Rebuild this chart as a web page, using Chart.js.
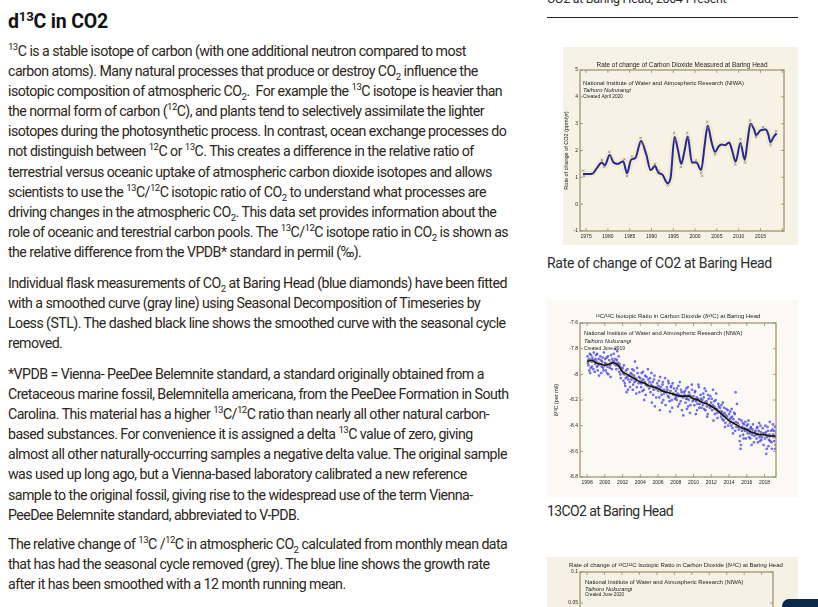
<!DOCTYPE html>
<html>
<head>
<meta charset="utf-8">
<script src="https://cdn.jsdelivr.net/npm/chart.js@4.4.1/dist/chart.umd.min.js"></script>
<style>
  html, body { margin: 0; padding: 0; background: #fff; overflow: hidden; }
  body { width: 818px; height: 607px; position: relative; font-family: Roboto, "Noto Sans", sans-serif; color: #2b2620; }
  #text { position: absolute; left: 8px; top: 0; width: 535px; }
  h2 { font-size: 19.5px; font-weight: 700; color: #111; margin: 9px 0 0 0; line-height: 26px; letter-spacing: -0.2px; }
  p { font-size: 14.2px; line-height: 20.1px; letter-spacing: -0.55px; margin: 0 0 10.8px 0; white-space: nowrap; }
  p.first { margin-top: 6px; }
  p.third { margin-bottom: 9.2px; }
  sup, sub { font-size: 0.68em; line-height: 0; }
  .cap { position: absolute; left: 547px; font-size: 14px; letter-spacing: -0.3px; color: #2b2b2b; white-space: nowrap; }
  #rule { position: absolute; left: 547px; top: 17px; width: 251px; height: 0; border-top: 1.5px solid #222; }
  canvas { position: absolute; }
  #topBtn { position: absolute; left: 782px; top: 599px; width: 46px; height: 20px; background: #0c2b4b; border-radius: 7px; }
</style>
</head>
<body>
<div id="text">
  <h2>d<sup>13</sup>C in CO2</h2>
  <p class="first"><sup>13</sup>C is a stable isotope of carbon (with one additional neutron compared to most<br>
  carbon atoms). Many natural processes that produce or destroy CO<sub>2</sub> influence the<br>
  isotopic composition of atmospheric CO<sub>2</sub>.&nbsp; For example the <sup>13</sup>C isotope is heavier than<br>
  the normal form of carbon (<sup>12</sup>C), and plants tend to selectively assimilate the lighter<br>
  isotopes during the photosynthetic process. In contrast, ocean exchange processes do<br>
  not distinguish between <sup>12</sup>C or <sup>13</sup>C. This creates a difference in the relative ratio of<br>
  terrestrial versus oceanic uptake of atmospheric carbon dioxide isotopes and allows<br>
  scientists to use the <sup>13</sup>C/<sup>12</sup>C isotopic ratio of CO<sub>2</sub> to understand what processes are<br>
  driving changes in the atmospheric CO<sub>2</sub>. This data set provides information about the<br>
  role of oceanic and terestrial carbon pools. The <sup>13</sup>C/<sup>12</sup>C isotope ratio in CO<sub>2</sub> is shown as<br>
  the relative difference from the VPDB* standard in permil (‰).</p>
  <p>Individual flask measurements of CO<sub>2</sub> at Baring Head (blue diamonds) have been fitted<br>
  with a smoothed curve (gray line) using Seasonal Decomposition of Timeseries by<br>
  Loess (STL). The dashed black line shows the smoothed curve with the seasonal cycle<br>
  removed.</p>
  <p class="third">*VPDB = Vienna- PeeDee Belemnite standard, a standard originally obtained from a<br>
  Cretaceous marine fossil, Belemnitella americana, from the PeeDee Formation in South<br>
  Carolina. This material has a higher <sup>13</sup>C/<sup>12</sup>C ratio than nearly all other natural carbon-<br>
  based substances. For convenience it is assigned a delta <sup>13</sup>C value of zero, giving<br>
  almost all other naturally-occurring samples a negative delta value. The original sample<br>
  was used up long ago, but a Vienna-based laboratory calibrated a new reference<br>
  sample to the original fossil, giving rise to the widespread use of the term Vienna-<br>
  PeeDee Belemnite standard, abbreviated to V-PDB.</p>
  <p>The relative change of <sup>13</sup>C /<sup>12</sup>C in atmospheric CO<sub>2</sub> calculated from monthly mean data<br>
  that has had the seasonal cycle removed (grey). The blue line shows the growth rate<br>
  after it has been smoothed with a 12 month running mean.</p>
</div>

<div class="cap" style="top:-9px; font-size:12.5px;">CO2 at Baring Head, 2004-Present</div>
<div id="rule"></div>

<canvas id="rateChart" width="235" height="198" style="left:563px; top:47px;"></canvas>
<div class="cap" style="top:255px;">Rate of change of CO2 at Baring Head</div>

<canvas id="isoChart" width="251" height="197" style="left:547px; top:300px;"></canvas>
<div class="cap" style="top:503px; letter-spacing:-0.6px;">13CO2 at Baring Head</div>

<canvas id="isoRateChart" width="251" height="190" style="left:547px; top:557px;"></canvas>
<div id="topBtn"></div>

<script>
// ---- rate of change of CO2 (ppm/yr), smoothed curve ----
const rateYears = [1974.3, 1975.5, 1976.5, 1977.5, 1978.6, 1979.3, 1980.4, 1981.3, 1982.3, 1983.5,
  1984.4, 1985.3, 1986.3, 1987.6, 1988.8, 1989.8, 1990.8, 1991.6, 1992.5, 1993.7,
  1994.4, 1995.3, 1996.1, 1996.8, 1997.6, 1998.3, 1999.3, 2000.3, 2001.4, 2002.2,
  2002.9, 2003.8, 2004.6, 2005.4, 2006.1, 2006.9, 2007.8, 2008.5, 2009.3, 2010.4,
  2011.4, 2012.0, 2012.7, 2013.5, 2014.0, 2015.0, 2016.2, 2016.8, 2017.3, 2018.0, 2018.7];
const rateValues = [1.12, 1.12, 1.14, 1.35, 1.55, 1.45, 1.83, 1.55, 1.50, 1.60,
  1.15, 1.65, 1.72, 2.35, 1.85, 1.27, 1.42, 1.17, 1.10, 0.78,
  1.00, 2.50, 2.00, 1.50, 2.00, 2.52, 1.55, 1.55, 1.27, 2.20,
  2.92, 2.30, 1.95, 2.15, 2.22, 2.20, 2.30, 2.00, 1.58, 2.28,
  1.65, 2.30, 3.00, 2.80, 2.57, 2.75, 2.78, 2.60, 2.30, 2.50, 2.64];

// annual estimates (grey markers)
const annualYears = [1974.3, 1974.5, 1978.6, 1979.2, 1980.3, 1980.6, 1983.8, 1984.4, 1985.5, 1987.5,
  1987.8, 1990.8, 1991.7, 1993.7, 1995.2, 1995.5, 1996.7, 1998.2, 1998.5, 2000.2,
  2001.4, 2001.6, 2002.8, 2003.0, 2004.6, 2009.2, 2010.4, 2010.5, 2011.5, 2012.6,
  2012.9, 2014.0, 2015.6, 2017.3, 2018.6];
const annualValues = [1.25, 1.05, 1.65, 1.38, 1.95, 1.75, 1.68, 1.05, 1.78, 2.47,
  2.25, 1.50, 1.25, 0.70, 2.66, 2.40, 1.38, 2.66, 2.45, 1.63,
  1.17, 1.06, 3.07, 2.85, 1.86, 1.48, 2.42, 2.20, 1.55, 3.12,
  2.95, 2.50, 2.87, 2.20, 2.72];

// ---- d13C flask samples (per mil) ----
const flaskYears = [
  1998.05, 1998.15, 1998.2, 1998.3, 1998.35, 1998.4, 1998.5, 1998.6, 1998.7, 1998.8, 1998.9,
  1999.0, 1999.1, 1999.2, 1999.3, 1999.45, 1999.5, 1999.6, 1999.7, 1999.8, 1999.9,
  2000.0, 2000.1, 2000.2, 2000.3, 2000.4, 2000.5, 2000.6, 2000.7, 2000.8, 2000.9,
  2001.0, 2001.1, 2001.2, 2001.3, 2001.4, 2001.5, 2001.6, 2001.7, 2001.8, 2001.9,
  2002.0, 2002.1, 2002.2, 2002.3, 2002.4, 2002.5, 2002.6, 2002.7, 2002.8, 2002.9,
  2003.0, 2003.1, 2003.2, 2003.3, 2003.4, 2003.5, 2003.6, 2003.7, 2003.8, 2003.9,
  2004.0, 2004.1, 2004.2, 2004.3, 2004.4, 2004.5, 2004.6, 2004.7, 2004.8, 2004.9,
  2005.0, 2005.1, 2005.2, 2005.3, 2005.4, 2005.5, 2005.6, 2005.7, 2005.8, 2005.9,
  2006.0, 2006.1, 2006.2, 2006.3, 2006.4, 2006.5, 2006.6, 2006.7, 2006.8, 2006.9,
  2007.0, 2007.1, 2007.2, 2007.3, 2007.4, 2007.5, 2007.6, 2007.7, 2007.8, 2007.9,
  2008.0, 2008.1, 2008.2, 2008.3, 2008.4, 2008.5, 2008.6, 2008.7, 2008.8, 2008.9,
  2009.0, 2009.1, 2009.2, 2009.3, 2009.4, 2009.5, 2009.6, 2009.7, 2009.8, 2009.9,
  2010.0, 2010.1, 2010.2, 2010.3, 2010.4, 2010.5, 2010.6, 2010.7, 2010.8, 2010.9,
  2011.0, 2011.1, 2011.2, 2011.3, 2011.4, 2011.5, 2011.6, 2011.7, 2011.8, 2011.9,
  2012.0, 2012.1, 2012.2, 2012.3, 2012.4, 2012.5, 2012.6, 2012.7, 2012.8, 2012.9,
  2013.0, 2013.1, 2013.2, 2013.3, 2013.4, 2013.5, 2013.6, 2013.7, 2013.8, 2013.9,
  2014.0, 2014.1, 2014.2, 2014.3, 2014.4, 2014.5, 2014.6, 2014.7, 2014.75, 2014.8, 2014.9,
  2015.0, 2015.1, 2015.2, 2015.3, 2015.35, 2015.4, 2015.5, 2015.6, 2015.7, 2015.8, 2015.9,
  2016.0, 2016.1, 2016.2, 2016.3, 2016.4, 2016.5, 2016.6, 2016.7, 2016.8, 2016.9,
  2017.0, 2017.1, 2017.2, 2017.3, 2017.4, 2017.5, 2017.6, 2017.7, 2017.8, 2017.9,
  2018.0, 2018.1, 2018.2, 2018.25, 2018.3, 2018.4, 2018.5, 2018.6, 2018.7, 2018.8, 2018.9,
  2019.0, 2019.1, 2019.2, 2019.25, 2019.3];
const flaskD13C = [
  -7.86, -7.93, -7.88, -7.84, -7.99, -7.95, -7.90, -7.87, -7.96, -7.89, -7.92,
  -7.85, -7.94, -7.97, -7.88, -7.92, -7.86, -7.99, -7.90, -7.95, -7.83,
  -7.91, -7.97, -7.87, -7.94, -8.00, -7.89, -7.93, -7.85, -7.96, -7.90,
  -7.84, -7.92, -7.88, -7.96, -7.82, -7.91, -7.98, -7.94, -8.03, -7.97,
  -7.95, -8.05, -8.00, -8.09, -7.97, -8.02, -8.12, -8.01, -8.06, -7.99,
  -8.04, -7.96, -8.08, -8.01, -7.90, -8.05, -8.10, -7.99, -8.07, -8.14,
  -8.03, -8.10, -8.05, -7.98, -8.12, -8.06, -8.16, -8.02, -8.09, -8.04,
  -8.11, -8.03, -8.08, -8.22, -8.06, -8.12, -8.01, -8.10, -8.18, -8.07,
  -8.13, -8.05, -8.28, -8.10, -8.16, -8.08, -8.20, -8.12, -8.03, -8.14,
  -8.10, -8.17, -8.07, -8.21, -8.13, -8.09, -8.26, -8.15, -8.11, -8.19,
  -8.13, -8.20, -8.15, -8.09, -8.23, -8.17, -8.12, -8.28, -8.18, -8.14,
  -8.16, -8.22, -8.11, -8.19, -8.25, -8.14, -8.30, -8.18, -8.08, -8.21,
  -8.17, -8.24, -8.13, -8.21, -8.28, -8.19, -8.10, -8.23, -8.16, -8.26,
  -8.20, -8.15, -8.27, -8.22, -8.13, -8.25, -8.31, -8.19, -8.24, -8.17,
  -8.22, -8.28, -8.12, -8.25, -8.31, -8.20, -8.27, -8.34, -8.23, -8.29,
  -8.26, -8.33, -8.29, -8.22, -8.36, -8.30, -8.38, -8.27, -8.33, -8.40,
  -8.31, -8.38, -8.34, -8.27, -8.42, -8.35, -8.30, -8.44, -8.14, -8.37, -8.23,
  -8.38, -8.43, -8.52, -8.58, -8.55, -8.36, -8.41, -8.47, -8.39, -8.44, -8.50,
  -8.40, -8.46, -8.36, -8.43, -8.50, -8.42, -8.47, -8.39, -8.53, -8.45,
  -8.44, -8.50, -8.41, -8.47, -8.38, -8.52, -8.45, -8.49, -8.42, -8.55,
  -8.46, -8.40, -8.62, -8.58, -8.49, -8.44, -8.51, -8.37, -8.48, -8.53, -8.43,
  -8.47, -8.52, -8.41, -8.55, -8.45];

// second sampling of flasks (same site, other days)
const flaskYearsB = [
  1998.1, 1998.25, 1998.45, 1998.55, 1998.65, 1998.75, 1998.85, 1998.95,
  1999.05, 1999.15, 1999.25, 1999.35, 1999.55, 1999.65, 1999.75, 1999.85,
  2000.05, 2000.15, 2000.25, 2000.35, 2000.55, 2000.65, 2000.75, 2000.85,
  2001.05, 2001.15, 2001.25, 2001.35, 2001.55, 2001.65, 2001.75, 2001.85,
  2002.05, 2002.15, 2002.25, 2002.35, 2002.45, 2002.55, 2002.65, 2002.85,
  2003.05, 2003.15, 2003.25, 2003.35, 2003.45, 2003.55, 2003.65, 2003.85,
  2004.05, 2004.15, 2004.25, 2004.35, 2004.45, 2004.55, 2004.65, 2004.85,
  2005.05, 2005.15, 2005.25, 2005.35, 2005.45, 2005.55, 2005.65, 2005.85,
  2006.05, 2006.15, 2006.25, 2006.35, 2006.45, 2006.55, 2006.65, 2006.85,
  2007.05, 2007.15, 2007.25, 2007.35, 2007.45, 2007.55, 2007.65, 2007.85,
  2008.05, 2008.15, 2008.25, 2008.35, 2008.45, 2008.55, 2008.65, 2008.85,
  2009.05, 2009.15, 2009.25, 2009.35, 2009.45, 2009.55, 2009.65, 2009.85,
  2010.05, 2010.15, 2010.25, 2010.35, 2010.45, 2010.55, 2010.65, 2010.85,
  2011.05, 2011.15, 2011.25, 2011.35, 2011.45, 2011.55, 2011.65, 2011.85,
  2012.05, 2012.15, 2012.25, 2012.35, 2012.45, 2012.55, 2012.65, 2012.85,
  2013.05, 2013.15, 2013.25, 2013.35, 2013.45, 2013.55, 2013.65, 2013.85,
  2014.05, 2014.15, 2014.25, 2014.35, 2014.45, 2014.55, 2014.65, 2014.85,
  2015.05, 2015.15, 2015.25, 2015.45, 2015.55, 2015.65, 2015.75, 2015.85,
  2016.05, 2016.15, 2016.25, 2016.35, 2016.45, 2016.55, 2016.65, 2016.85,
  2017.05, 2017.15, 2017.25, 2017.35, 2017.45, 2017.55, 2017.65, 2017.85,
  2018.05, 2018.15, 2018.35, 2018.45, 2018.55, 2018.65, 2018.75, 2018.85, 2018.95,
  2019.05, 2019.15, 2019.22];
const flaskD13CB = [
  -7.91, -7.97, -7.85, -7.94, -7.89, -7.83, -7.98, -7.88,
  -7.90, -7.84, -7.93, -8.01, -7.89, -7.94, -7.87, -7.97,
  -7.88, -7.92, -7.99, -7.86, -7.95, -8.02, -7.91, -7.88,
  -7.90, -7.80, -7.93, -7.89, -7.86, -7.92, -8.00, -7.95,
  -7.99, -7.93, -8.07, -8.03, -8.14, -7.96, -8.04, -8.10,
  -8.00, -8.12, -7.97, -8.06, -8.03, -8.15, -7.95, -8.02,
  -8.07, -7.99, -8.13, -8.04, -8.20, -8.01, -8.08, -7.96,
  -8.06, -8.14, -7.99, -8.09, -8.16, -8.04, -8.25, -8.11,
  -8.09, -8.18, -8.02, -8.13, -8.22, -8.06, -8.15, -8.24,
  -8.12, -8.05, -8.18, -8.29, -8.10, -8.20, -8.07, -8.16,
  -8.18, -8.11, -8.25, -8.16, -8.06, -8.21, -8.14, -8.32,
  -8.13, -8.19, -8.27, -8.10, -8.20, -8.16, -8.24, -8.12,
  -8.20, -8.14, -8.31, -8.18, -8.23, -8.08, -8.26, -8.19,
  -8.24, -8.18, -8.11, -8.28, -8.21, -8.33, -8.16, -8.26,
  -8.19, -8.24, -8.36, -8.21, -8.27, -8.15, -8.30, -8.25,
  -8.29, -8.24, -8.35, -8.31, -8.26, -8.41, -8.32, -8.28,
  -8.35, -8.29, -8.40, -8.33, -8.46, -8.38, -8.31, -8.41,
  -8.41, -8.35, -8.48, -8.44, -8.38, -8.50, -8.42, -8.37,
  -8.44, -8.39, -8.49, -8.46, -8.41, -8.55, -8.43, -8.48,
  -8.47, -8.42, -8.53, -8.44, -8.49, -8.40, -8.51, -8.46,
  -8.50, -8.45, -8.41, -8.56, -8.47, -8.52, -8.44, -8.58, -8.39,
  -8.44, -8.49, -8.58];

// smoothed curve with seasonal cycle removed
const trendYears = [1998.0, 1998.5, 1999.0, 1999.5, 2000.0, 2000.5, 2001.0, 2001.5, 2002.0, 2002.5,
  2003.0, 2003.5, 2004.0, 2004.5, 2005.0, 2005.5, 2006.0, 2006.5, 2007.0, 2007.5,
  2008.0, 2008.5, 2009.0, 2009.5, 2010.0, 2010.5, 2011.0, 2011.5, 2012.0, 2012.5,
  2013.0, 2013.5, 2014.0, 2014.5, 2015.0, 2015.5, 2016.0, 2016.5, 2017.0, 2017.5,
  2018.0, 2018.5, 2019.0, 2019.3];
const trendD13C = [-7.90, -7.89, -7.91, -7.92, -7.93, -7.92, -7.91, -7.93, -7.98, -8.00,
  -8.02, -8.04, -8.06, -8.07, -8.09, -8.10, -8.11, -8.13, -8.14, -8.15,
  -8.16, -8.17, -8.17, -8.17, -8.19, -8.20, -8.22, -8.23, -8.25, -8.27,
  -8.30, -8.33, -8.36, -8.38, -8.40, -8.42, -8.43, -8.45, -8.46, -8.47,
  -8.47, -8.48, -8.48, -8.48];

const notesTop = ['National Institute of Water and Atmospheric Research (NIWA)', 'Taihoro Nukurangi'];

function pairs(xs, ys) {
  return xs.map((x, i) => ({ x: x, y: ys[i] }));
}

// draws background, frame, inward ticks, title and the NIWA notes
const niwaFrame = {
  id: 'niwaFrame',
  beforeDraw(chart, args, opts) {
    const ctx = chart.ctx;
    ctx.save();
    ctx.fillStyle = opts.bg;
    ctx.fillRect(0, 0, chart.width, chart.height);
    ctx.restore();
  },
  afterDraw(chart, args, opts) {
    const { ctx, chartArea: a, scales } = chart;
    ctx.save();
    ctx.strokeStyle = opts.frame;
    ctx.lineWidth = 1.2;
    ctx.strokeRect(a.left, a.top, a.right - a.left, a.bottom - a.top);
    ctx.lineWidth = 0.8;
    ctx.beginPath();
    scales.x.ticks.forEach(t => {
      const px = scales.x.getPixelForValue(t.value);
      ctx.moveTo(px, a.bottom); ctx.lineTo(px, a.bottom - 3);
      ctx.moveTo(px, a.top); ctx.lineTo(px, a.top + 3);
    });
    scales.y.ticks.forEach(t => {
      const py = scales.y.getPixelForValue(t.value);
      ctx.moveTo(a.left, py); ctx.lineTo(a.left + 3, py);
      ctx.moveTo(a.right, py); ctx.lineTo(a.right - 3, py);
    });
    ctx.stroke();
    ctx.fillStyle = '#222';
    ctx.textAlign = 'center';
    ctx.textBaseline = 'middle';
    ctx.font = opts.titleFont;
    ctx.fillText(opts.title, opts.titleX || (a.left + a.right) / 2, opts.titleY);
    ctx.textAlign = 'left';
    opts.notes.forEach(n => {
      ctx.font = n.font;
      ctx.fillText(n.text, a.left + n.dx, a.top + n.dy);
    });
    ctx.restore();
  }
};

function tinyScales(xMin, xMax, xStep, yMin, yMax, yStep, yTitle, yWidth, xHeight, xLast, titlePad) {
  return {
    x: {
      type: 'linear', min: xMin, max: xMax,
      grid: { display: false, drawTicks: false }, border: { display: false },
      ticks: { stepSize: xStep, includeBounds: false, padding: 3, color: '#222',
        font: { size: 5, family: 'Liberation Sans' },
        callback: v => (v > xLast ? '' : String(v)) },
      afterFit: s => { s.height = xHeight; }
    },
    y: {
      type: 'linear', min: yMin, max: yMax,
      grid: { display: false, drawTicks: false }, border: { display: false },
      ticks: { stepSize: yStep, padding: 2, color: '#222', font: { size: 5, family: 'Liberation Sans' },
        callback: v => String(+v.toFixed(2)) },
      title: { display: yTitle !== '', text: yTitle, padding: { top: titlePad || 0, bottom: 0 }, color: '#222',
        font: { size: 5.5, family: 'Liberation Sans' } },
      afterFit: s => { s.width = yWidth; }
    }
  };
}

const commonPlugins = { legend: { display: false }, tooltip: { enabled: false }, title: { display: false } };

// Chart 1: rate of change of CO2
new Chart(document.getElementById('rateChart'), {
  type: 'line',
  data: {
    datasets: [
      { data: pairs(annualYears, annualValues), showLine: false, pointStyle: 'crossRot', pointRadius: 1.6,
        borderColor: '#8c8670', borderWidth: 0.8, order: 1 },
      { data: pairs(rateYears, rateValues), borderColor: '#25259c', borderWidth: 2, pointRadius: 0,
        cubicInterpolationMode: 'monotone', order: 2 },
      { data: pairs(rateYears, rateValues), borderColor: 'rgba(236, 218, 150, 0.3)', borderWidth: 7,
        pointRadius: 0, cubicInterpolationMode: 'monotone', order: 3 }
    ]
  },
  options: {
    responsive: false, animation: false, devicePixelRatio: 1,
    layout: { padding: { top: 23, right: 14, left: 0, bottom: 0 } },
    scales: tinyScales(1973.6, 2020.4, 5, -1, 5, 1, 'Rate of change of CO2 (ppm/yr)', 17, 14, 2016, 0),
    plugins: Object.assign({}, commonPlugins, {
      niwaFrame: {
        bg: '#f6f2e6', frame: '#9c8a66', title: 'Rate of change of Carbon Dioxide Measured at Baring Head',
        titleFont: '6.4px "Liberation Sans"', titleY: 18,
        notes: [
          { text: notesTop[0], font: '5.9px "Liberation Sans"', dx: 3, dy: 13 },
          { text: notesTop[1], font: 'italic 5.9px "Liberation Sans"', dx: 3, dy: 20 },
          { text: 'Created April 2020', font: '4.8px "Liberation Sans"', dx: 3, dy: 26.5 }
        ]
      }
    })
  },
  plugins: [niwaFrame]
});

// Chart 2: 13C/12C isotopic ratio
new Chart(document.getElementById('isoChart'), {
  type: 'line',
  data: {
    datasets: [
      { data: pairs(trendYears, trendD13C), borderColor: '#111', borderWidth: 1.6, pointRadius: 0,
        cubicInterpolationMode: 'monotone', order: 1 },
      { data: pairs(trendYears, trendD13C), borderColor: 'rgba(150, 140, 110, 0.7)', borderWidth: 4.5,
        borderDash: [1.5, 1.5], pointRadius: 0, cubicInterpolationMode: 'monotone', order: 2 },
      { data: pairs(flaskYears, flaskD13C), showLine: false, pointStyle: 'rect', pointRadius: 1.1,
        backgroundColor: 'rgba(130, 130, 255, 0.55)', borderColor: '#2626ee', borderWidth: 0.6, order: 3 },
      { data: pairs(flaskYearsB, flaskD13CB), showLine: false, pointStyle: 'rect', pointRadius: 1.1,
        backgroundColor: 'rgba(130, 130, 255, 0.55)', borderColor: '#2626ee', borderWidth: 0.6, order: 4 }
    ]
  },
  options: {
    responsive: false, animation: false, devicePixelRatio: 1,
    layout: { padding: { top: 23, right: 22, left: 0, bottom: 0 } },
    scales: tinyScales(1997.2, 2019.3, 2, -8.8, -7.6, 0.2, 'δ¹³C (per mil)', 33, 20, 2018, 6),
    plugins: Object.assign({}, commonPlugins, {
      niwaFrame: {
        bg: '#fbf9f4', frame: '#9c8a66', title: '¹³C/¹²C Isotopic Ratio in Carbon Dioxide (δ¹³C) at Baring Head',
        titleFont: '6px "Liberation Sans"', titleY: 16,
        notes: [
          { text: notesTop[0], font: '5.8px "Liberation Sans"', dx: 4, dy: 10 },
          { text: notesTop[1], font: 'italic 5.8px "Liberation Sans"', dx: 4, dy: 18 },
          { text: 'Created June 2019', font: '4.8px "Liberation Sans"', dx: 4, dy: 26 }
        ]
      }
    })
  },
  plugins: [niwaFrame]
});

// Chart 3: rate of change of d13C (only its top is on screen)
new Chart(document.getElementById('isoRateChart'), {
  type: 'line',
  data: { datasets: [{ data: [], borderColor: '#2a2aa8', borderWidth: 2, pointRadius: 0 }] },
  options: {
    responsive: false, animation: false, devicePixelRatio: 1,
    layout: { padding: { top: 15, right: 25, left: 0, bottom: 0 } },
    scales: tinyScales(1997.2, 2019.3, 2, -0.15, 0.1, 0.05, '', 33, 20, 2018, 0),
    plugins: Object.assign({}, commonPlugins, {
      niwaFrame: {
        bg: '#f5f1e5', frame: '#9c8a66',
        title: 'Rate of change of ¹³C/¹²C Isotopic Ratio in Carbon Dioxide (δ¹³C) at Baring Head',
        titleFont: '6px "Liberation Sans"', titleY: 8, titleX: 129,
        notes: [
          { text: notesTop[0], font: '5.8px "Liberation Sans"', dx: 5, dy: 10 },
          { text: notesTop[1], font: 'italic 5.8px "Liberation Sans"', dx: 5, dy: 17 },
          { text: 'Created June 2020', font: '4.6px "Liberation Sans"', dx: 5, dy: 22.5 }
        ]
      }
    })
  },
  plugins: [niwaFrame]
});
</script>
</body>
</html>
